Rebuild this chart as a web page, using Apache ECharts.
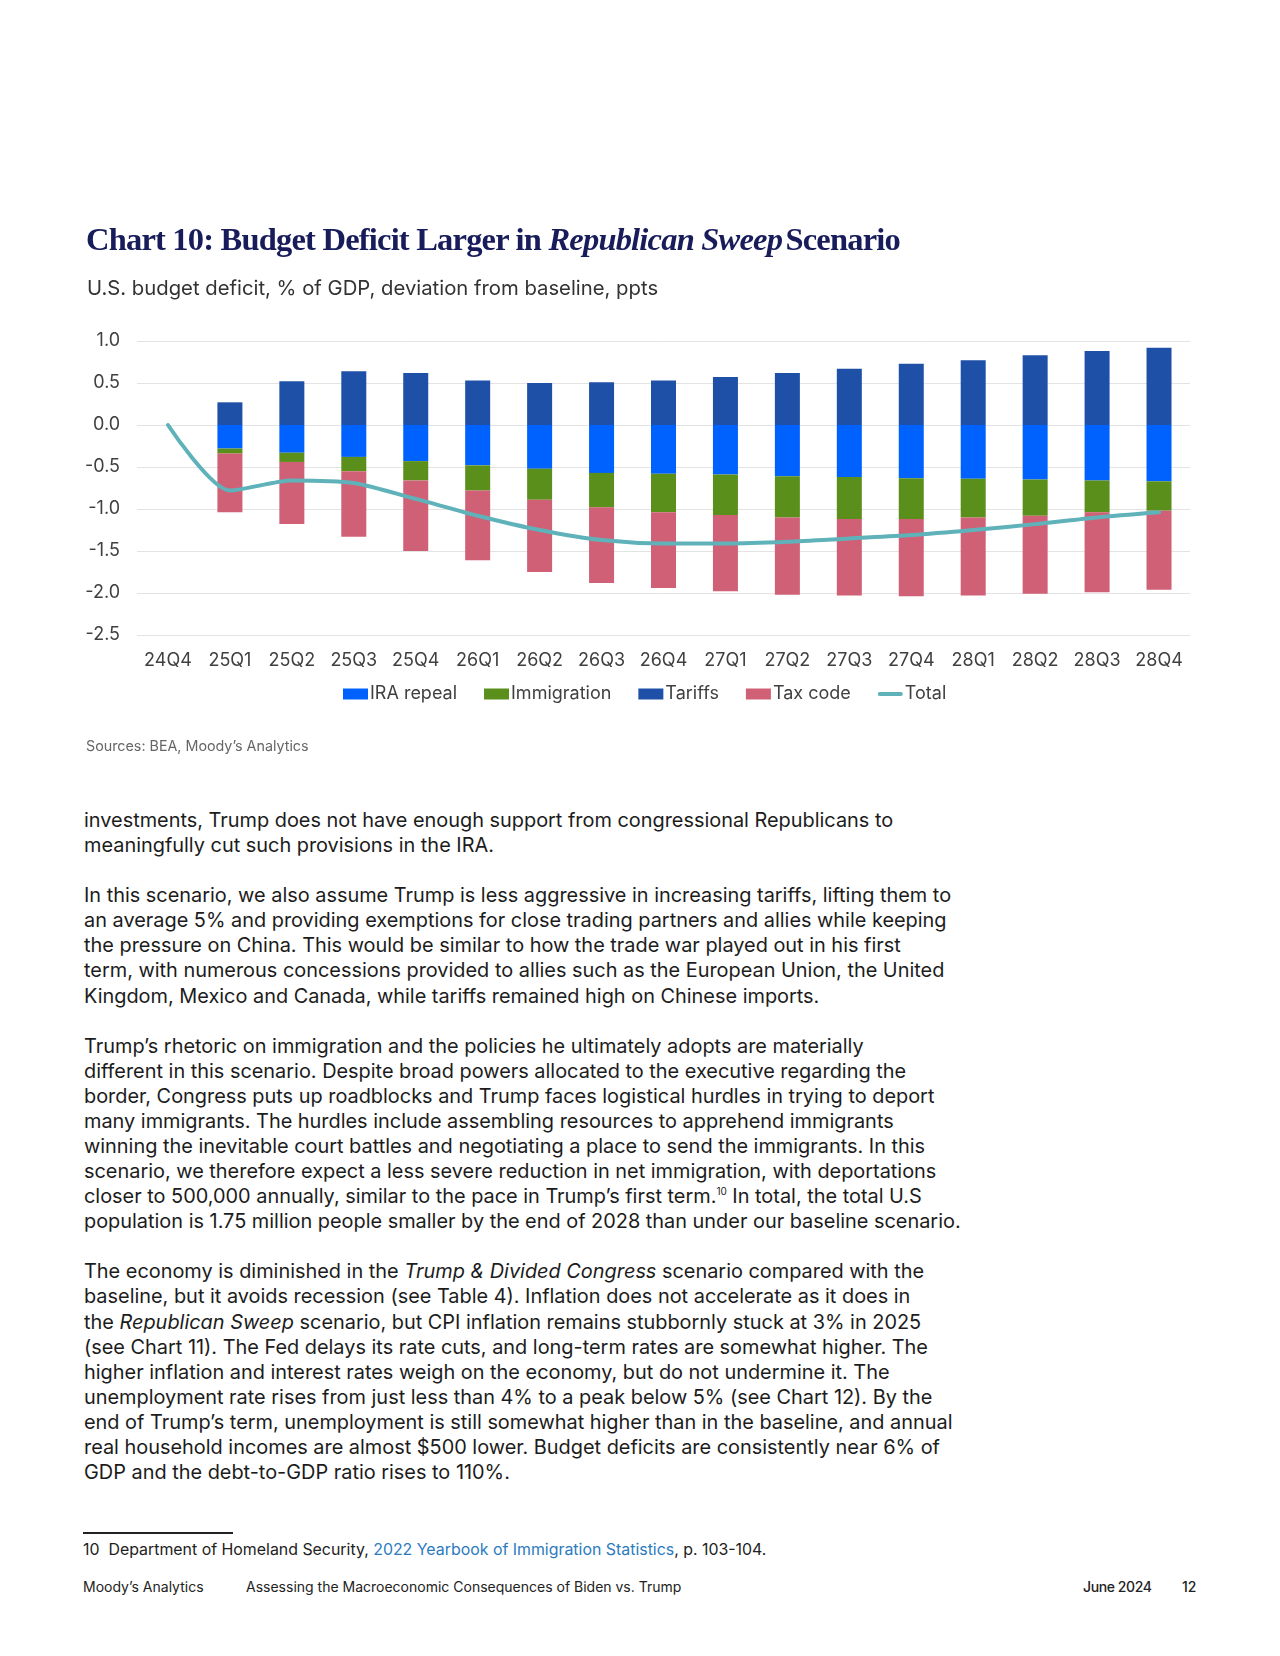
<!DOCTYPE html>
<html>
<head>
<meta charset="utf-8">
<script src="https://cdn.jsdelivr.net/npm/echarts@6/dist/echarts.min.js"></script>
<style>
  html, body { margin: 0; padding: 0; background: #fff; }
  #page { position: relative; width: 1280px; height: 1656px; overflow: hidden; font-family: Inter, Roboto, "Noto Sans", sans-serif; }
  #chart { position: absolute; left: 0; top: 0; width: 1280px; height: 780px; }
  .t { position: absolute; white-space: nowrap; }
  #title { left: 86px; top: 219px; font-family: "Liberation Serif", serif; font-weight: bold; font-size: 32.5px; line-height: 40px; color: #181c5a; letter-spacing: -0.8px; }
  #subtitle { left: 87px; top: 276px; font-size: 20.3px; line-height: 24px; color: #333; }
  #sources { left: 86px; top: 736px; font-size: 14.3px; line-height: 20px; color: #666; }
  #body { left: 84px; top: 808px; font-size: 19.9px; line-height: 25.08px; color: #1c1c1c; }
  #rule { position: absolute; left: 83px; top: 1532px; width: 150px; height: 2px; background: #222; }
  #foot { left: 83px; top: 1540px; font-size: 15.9px; line-height: 20px; color: #222; }
  #foot span { color: #2b7bbf; }
  .ft { top: 1577px; font-size: 14px; line-height: 20px; color: #222; }
</style>
</head>
<body>
<div id="page">
  <div id="chart"></div>
  <div class="t" id="title">Chart 10: Budget Deficit Larger in <i>Republican Sweep</i><span style="margin-left:-4px"> </span>Scenario</div>
  <div class="t" id="subtitle">U.S. budget deficit, % of GDP, deviation from baseline, ppts</div>
  <div class="t" id="sources">Sources: BEA, Moody’s Analytics</div>
  <div class="t" id="body">investments, Trump does not have enough support from congressional Republicans to<br>meaningfully cut such provisions in the IRA.<br><br>In this scenario, we also assume Trump is less aggressive in increasing tariffs, lifting them to<br>an average 5% and providing exemptions for close trading partners and allies while keeping<br>the pressure on China. This would be similar to how the trade war played out in his first<br>term, with numerous concessions provided to allies such as the European Union, the United<br>Kingdom, Mexico and Canada, while tariffs remained high on Chinese imports.<br><br>Trump’s rhetoric on immigration and the policies he ultimately adopts are materially<br>different in this scenario. Despite broad powers allocated to the executive regarding the<br>border, Congress puts up roadblocks and Trump faces logistical hurdles in trying to deport<br>many immigrants. The hurdles include assembling resources to apprehend immigrants<br>winning the inevitable court battles and negotiating a place to send the immigrants. In this<br>scenario, we therefore expect a less severe reduction in net immigration, with deportations<br>closer to 500,000 annually, similar to the pace in Trump’s first term.<sup style="font-size:10px;line-height:0">10</sup> In total, the total U.S<br>population is 1.75 million people smaller by the end of 2028 than under our baseline scenario.<br><br>The economy is diminished in the <i>Trump &amp; Divided Congress</i> scenario compared with the<br>baseline, but it avoids recession (see Table 4). Inflation does not accelerate as it does in<br>the <i>Republican Sweep</i> scenario, but CPI inflation remains stubbornly stuck at 3% in 2025<br>(see Chart 11). The Fed delays its rate cuts, and long-term rates are somewhat higher. The<br>higher inflation and interest rates weigh on the economy, but do not undermine it. The<br>unemployment rate rises from just less than 4% to a peak below 5% (see Chart 12). By the<br>end of Trump’s term, unemployment is still somewhat higher than in the baseline, and annual<br>real household incomes are almost $500 lower. Budget deficits are consistently near 6% of<br>GDP and the debt-to-GDP ratio rises to 110%.</div>
  <div id="rule"></div>
  <div class="t" id="foot">10&nbsp; Department of Homeland Security, <span>2022 Yearbook of Immigration Statistics</span>, p. 103-104.</div>
  <div class="t ft" style="left:83px;">Moody’s Analytics</div>
  <div class="t ft" style="left:246px;">Assessing the Macroeconomic Consequences of Biden vs. Trump</div>
  <div class="t ft" style="left:1083px;font-weight:500;letter-spacing:-0.4px;">June 2024</div>
  <div class="t ft" style="left:1182px;font-weight:500;">12</div>
</div>
<script>
const categories = ['24Q4','25Q1','25Q2','25Q3','25Q4','26Q1','26Q2','26Q3','26Q4','27Q1','27Q2','27Q3','27Q4','28Q1','28Q2','28Q3','28Q4'];
const iraRepeal   = [null,-0.28,-0.33,-0.38,-0.43,-0.48,-0.52,-0.57,-0.58,-0.59,-0.61,-0.62,-0.635,-0.64,-0.65,-0.66,-0.67];
const immigration = [null,-0.06,-0.11,-0.17,-0.23,-0.30,-0.37,-0.41,-0.46,-0.48,-0.49,-0.50,-0.485,-0.46,-0.43,-0.38,-0.35];
const tariffs     = [null,0.27,0.52,0.64,0.62,0.53,0.50,0.51,0.53,0.57,0.62,0.67,0.73,0.77,0.83,0.88,0.92];
const taxCode     = [null,-0.70,-0.74,-0.78,-0.84,-0.83,-0.86,-0.90,-0.90,-0.91,-0.92,-0.91,-0.92,-0.93,-0.93,-0.95,-0.94];
const total       = [0,-0.78,-0.66,-0.69,-0.88,-1.08,-1.25,-1.37,-1.41,-1.41,-1.39,-1.35,-1.31,-1.25,-1.18,-1.10,-1.04];
const yTicks = {min: -2.5, max: 1.0, interval: 0.5};

const chart = echarts.init(document.getElementById('chart'), null, {renderer: 'canvas'});
const labelFont = {fontFamily: 'Inter, Roboto, sans-serif', fontSize: 18, color: '#404040'};
const lineColor = '#5fb2b9';
function bar(name, data, color) {
  return {name, type: 'bar', stack: 'all', data, barWidth: 25, itemStyle: {color}, emphasis: {disabled: true}};
}
chart.setOption({
  animation: false,
  grid: {left: 137, right: 90, top: 341, bottom: 145, containLabel: false},
  legend: {
    top: 680, left: 338, itemGap: 27, itemWidth: 25, itemHeight: 11,
    textStyle: Object.assign({}, labelFont, {padding: [0, 0, 0, -3]}),
    data: [
      {name: 'IRA repeal', icon: 'rect'},
      {name: 'Immigration', icon: 'rect'},
      {name: 'Tariffs', icon: 'rect'},
      {name: 'Tax code', icon: 'rect'},
      {name: 'Total', icon: 'path://M2,0 L24,0 A2,2 0 0 1 24,4 L2,4 A2,2 0 0 1 2,0 Z', itemStyle: {color: lineColor}}
    ]
  },
  xAxis: {
    type: 'category', data: categories, boundaryGap: true,
    axisLine: {show: false}, axisTick: {show: false},
    axisLabel: Object.assign({}, labelFont, {margin: 17, interval: 0})
  },
  yAxis: {
    type: 'value', min: yTicks.min, max: yTicks.max, interval: yTicks.interval,
    axisLine: {show: false}, axisTick: {show: false},
    splitLine: {lineStyle: {color: '#e3e3e3', width: 1}},
    axisLabel: Object.assign({}, labelFont, {margin: 17, formatter: v => v.toFixed(1)})
  },
  series: [
    bar('IRA repeal', iraRepeal, '#0062fe'),
    bar('Immigration', immigration, '#5b8f1c'),
    bar('Tariffs', tariffs, '#1f50a8'),
    bar('Tax code', taxCode, '#d06076'),
    {name: 'Total', type: 'line', data: total, smooth: 0.25, showSymbol: false, symbol: 'none',
     lineStyle: {color: lineColor, width: 4, cap: 'round'}, itemStyle: {color: lineColor}, z: 5}
  ]
});
</script>
</body>
</html>
